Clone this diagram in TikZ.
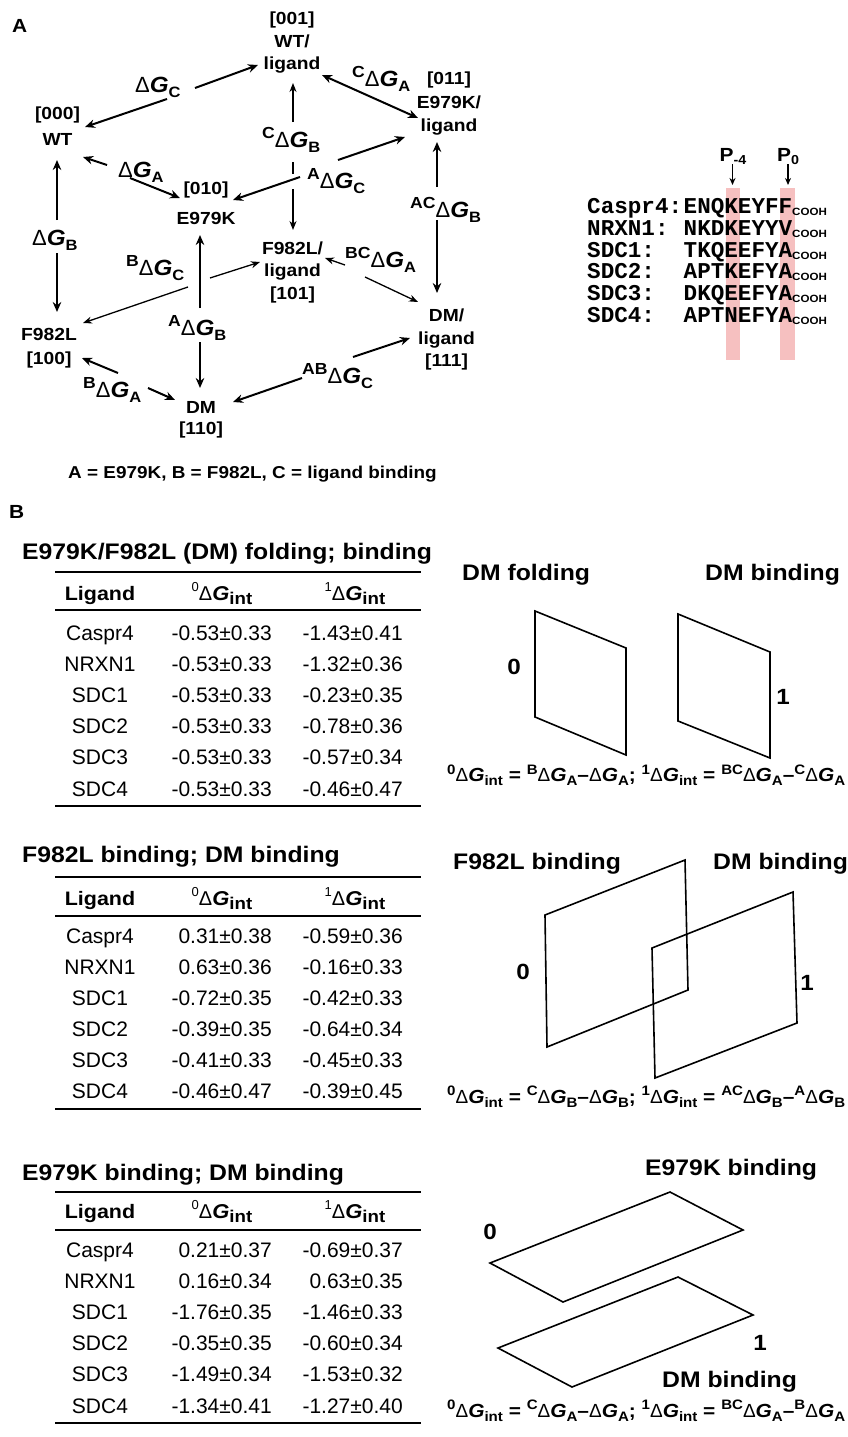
\documentclass[tikz,border=0pt]{standalone}
\usepackage{fontspec}
\setmainfont{Liberation Sans}[BoldFeatures={FakeStretch=1.1},BoldItalicFeatures={FakeStretch=1.1}]
\newfontfamily\seqfont{Liberation Mono}
\usetikzlibrary{arrows.meta}
\definecolor{pinkband}{RGB}{246,192,192}
\newcommand{\fs}[1]{\fontsize{#1}{#1}\selectfont}
\newcommand{\bgi}{\textbf{\textit{G}}}
\newcommand{\lab}[2]{{\fs{16}\bfseries\raisebox{9pt}{#1}}{\fs{22}\mdseries\upshape Δ\bgi}{\fs{15}\bfseries\raisebox{-5pt}{#2}}}
\newcommand{\hdg}[1]{{\fs{13}\mdseries\raisebox{9pt}{#1}}{\fs{20}\mdseries Δ\bgi}{\fs{17}\bfseries\raisebox{-4.5pt}{int}}}
\newcommand{\fdg}[2]{{\fs{13.7}\bfseries\raisebox{7.5pt}{#1}}{\fs{19}\mdseries Δ\bgi}{\fs{13.7}\bfseries\raisebox{-4pt}{#2}}}
\newcommand{\cooh}{{\normalfont\bfseries\fs{10.5}\raisebox{-2pt}{COOH}}}
\begin{document}
\begin{tikzpicture}[x=1pt,y=-1pt,
  thk/.style={line width=2pt,-{Stealth[length=10pt,width=8.5pt]}},
  thn/.style={line width=1.3pt,-{Stealth[length=9pt,width=7pt]}},
  dbl/.style={line width=2pt,{Stealth[length=10pt,width=8.5pt]}-{Stealth[length=10pt,width=8.5pt]}},
  plain/.style={line width=1.3pt},
  state/.style={font=\fontsize{17.5}{#1}\selectfont\bfseries,align=center,inner sep=0pt,anchor=north},
  dglab/.style={anchor=base west,inner sep=0pt},
  panel/.style={anchor=base west,inner sep=0pt,font=\fs{19}\bfseries},
  ttl/.style={anchor=base west,inner sep=0pt,font=\fs{22.5}\bfseries},
  hdr/.style={anchor=base,inner sep=0pt,font=\fs{19.5}\bfseries},
  cellc/.style={anchor=base,inner sep=0pt,font=\fs{21}},
  celle/.style={anchor=base east,inner sep=0pt,font=\fs{21}},
  rule/.style={line width=2pt},
  pg/.style={line width=1.6pt},
  num/.style={inner sep=0pt,font=\fs{22}\bfseries},
  frm/.style={anchor=base west,inner sep=0pt,font=\fs{19}\bfseries},
  seqn/.style={anchor=base west,inner sep=0pt,font=\seqfont\fs{22.6}\bfseries},
  plab/.style={anchor=base,inner sep=0pt,font=\fs{19}\bfseries},
  parr/.style={line width=1.3pt,-{Stealth[length=7pt,width=6pt]}}
]
\useasboundingbox (0,0) rectangle (847,1437);

% ---------------- Panel A ----------------
\node[panel] (pA) at (12,33) {A};

\node[state=22.5] (n001) at (292,11.7) {[001]\\WT/\\ligand};
\node[state=26] (n000) at (57.5,107) {[000]\\WT};
\node[state=23.2] (n011) at (449,72) {[011]\\E979K/\\ligand};
\node[state=30] (n010) at (206,182) {[010]\\E979K};
\node[state=22.4] (n101) at (292.5,241.7) {F982L/\\ligand\\{[101]}};
\node[state=24] (n100) at (49,328) {F982L\\{[100]}};
\node[state=20.5] (n110) at (201,401.7) {DM\\{[110]}};
\node[state=22.4] (n111) at (446.5,309) {DM/\\ligand\\{[111]}};

% labels
\node[dglab] (lC) at (135,92.5) {\lab{}{C}};
\node[dglab] (lCA) at (352,86.5) {\lab{C}{A}};
\node[dglab] (lCB) at (262,147) {\lab{C}{B}};
\node[dglab] (lAC) at (307,188) {\lab{A}{C}};
\node[dglab] (lA) at (118,177) {\lab{}{A}};
\node[dglab] (lB) at (32,245) {\lab{}{B}};
\node[dglab] (lBC) at (126,275) {\lab{B}{C}};
\node[dglab] (lAB) at (168,335) {\lab{A}{B}};
\node[dglab] (lBA) at (83,397) {\lab{B}{A}};
\node[dglab] (lABC) at (302,383) {\lab{AB}{C}};
\node[dglab] (lBCA) at (345,267) {\lab{BC}{A}};
\node[dglab] (lACB) at (410,217) {\lab{AC}{B}};

% arrow end points
\coordinate (c1a) at (167,99);  \coordinate (c1b) at (85,127);
\coordinate (c2a) at (195,88);  \coordinate (c2b) at (258,65);
\coordinate (c3a) at (322,75);  \coordinate (c3b) at (418,118);
\coordinate (c4a) at (293,122); \coordinate (c4b) at (293,83);
\coordinate (c5a) at (293,162); \coordinate (c5b) at (293,174);
\coordinate (c5c) at (293,189); \coordinate (c5d) at (293,230);
\coordinate (c6a) at (300,177); \coordinate (c6b) at (233,200);
\coordinate (c7a) at (338,160); \coordinate (c7b) at (405,137);
\coordinate (c8a) at (107,165); \coordinate (c8b) at (83,157);
\coordinate (c9a) at (130,178); \coordinate (c9b) at (180,198);
\coordinate (c10a) at (57,220); \coordinate (c10b) at (57,160);
\coordinate (c11a) at (57,253); \coordinate (c11b) at (57,312);
\coordinate (c12a) at (188,287); \coordinate (c12b) at (83,323);
\coordinate (c13a) at (210,278); \coordinate (c13b) at (260,262);
\coordinate (c14a) at (200,308); \coordinate (c14b) at (200,235);
\coordinate (c15a) at (200,342); \coordinate (c15b) at (200,388);
\coordinate (c16a) at (118,373); \coordinate (c16b) at (82,358);
\coordinate (c17a) at (148,388); \coordinate (c17b) at (175,400);
\coordinate (c18a) at (302,378); \coordinate (c18b) at (233,402);
\coordinate (c19a) at (353,357); \coordinate (c19b) at (410,338);
\coordinate (c20a) at (345,265); \coordinate (c20b) at (325,258);
\coordinate (c21a) at (365,277); \coordinate (c21b) at (418,302);
\coordinate (c22a) at (437,187); \coordinate (c22b) at (437,142);
\coordinate (c23a) at (437,220); \coordinate (c23b) at (437,293);

\draw[thk] (c1a) -- (c1b);
\draw[thk] (c2a) -- (c2b);
\draw[dbl] (c3a) -- (c3b);
\draw[thn] (c4a) -- (c4b);
\draw[plain] (c5a) -- (c5b);
\draw[thn] (c5c) -- (c5d);
\draw[thk] (c6a) -- (c6b);
\draw[thk] (c7a) -- (c7b);
\draw[thk] (c8a) -- (c8b);
\draw[thk] (c9a) -- (c9b);
\draw[thk] (c10a) -- (c10b);
\draw[thk] (c11a) -- (c11b);
\draw[thn] (c12a) -- (c12b);
\draw[thn] (c13a) -- (c13b);
\draw[thk] (c14a) -- (c14b);
\draw[thk] (c15a) -- (c15b);
\draw[thk] (c16a) -- (c16b);
\draw[thk] (c17a) -- (c17b);
\draw[thk] (c18a) -- (c18b);
\draw[thk] (c19a) -- (c19b);
\draw[thn] (c20a) -- (c20b);
\draw[thn] (c21a) -- (c21b);
\draw[thk] (c22a) -- (c22b);
\draw[thk] (c23a) -- (c23b);

\node[anchor=base west,inner sep=0pt,font=\fs{17.2}\bfseries] (capA) at (68,478) {A = E979K, B = F982L, C = ligand binding};

% sequence alignment
\fill[pinkband] (725.5,188) rectangle (740,360);
\fill[pinkband] (780,188) rectangle (795,360);
\node[plab] (pk) at (733,161) {P{\fs{13}\raisebox{-3pt}{-4}}};
\node[plab] (pz) at (788,161) {P{\fs{13}\raisebox{-3pt}{0}}};
\coordinate (pkend) at (732.5,185);
\coordinate (pzend) at (788,185);
\draw[parr] (732.5,164) -- (pkend);
\draw[parr] (788,164) -- (pzend);

\node[seqn] (s1n) at (587,213) {Caspr4:};
\node[seqn] (s1s) at (683.5,213) {ENQKEYFF\cooh};
\node[seqn] (s2n) at (587,235) {NRXN1:};
\node[seqn] (s2s) at (683.5,235) {NKDKEYYV\cooh};
\node[seqn] (s3n) at (587,257) {SDC1:};
\node[seqn] (s3s) at (683.5,257) {TKQEEFYA\cooh};
\node[seqn] (s4n) at (587,278.5) {SDC2:};
\node[seqn] (s4s) at (683.5,278.5) {APTKEFYA\cooh};
\node[seqn] (s5n) at (587,300) {SDC3:};
\node[seqn] (s5s) at (683.5,300) {DKQEEFYA\cooh};
\node[seqn] (s6n) at (587,322) {SDC4:};
\node[seqn] (s6s) at (683.5,322) {APTNEFYA\cooh};

% ---------------- Panel B ----------------
\node[panel] (pB) at (9,518) {B};

% table 1
\node[ttl] (t1) at (22,559) {E979K/F982L (DM) folding; binding};
\draw[rule] (55,572) -- (421,572);
\draw[rule] (55,610) -- (421,610);
\draw[rule] (55,806) -- (421,806);
\node[hdr] (t1h1) at (100,600) {Ligand};
\node[hdr] (t1h2) at (222,600) {\hdg{0}};
\node[hdr] (t1h3) at (355,600) {\hdg{1}};
\foreach \n/\a/\b [count=\i] in {Caspr4/-0.53±0.33/-1.43±0.41, NRXN1/-0.53±0.33/-1.32±0.36, SDC1/-0.53±0.33/-0.23±0.35, SDC2/-0.53±0.33/-0.78±0.36, SDC3/-0.53±0.33/-0.57±0.34, SDC4/-0.53±0.33/-0.46±0.47}{
  \node[cellc] (t1l\i) at (100,{640+31.2*(\i-1)}) {\n};
  \node[celle] (t1a\i) at (272,{640+31.2*(\i-1)}) {\a};
  \node[celle] (t1b\i) at (403,{640+31.2*(\i-1)}) {\b};
}

% table 2
\node[ttl] (t2) at (22,862) {F982L binding; DM binding};
\draw[rule] (55,877) -- (421,877);
\draw[rule] (55,916) -- (421,916);
\draw[rule] (55,1109) -- (421,1109);
\node[hdr] (t2h1) at (100,905) {Ligand};
\node[hdr] (t2h2) at (222,905) {\hdg{0}};
\node[hdr] (t2h3) at (355,905) {\hdg{1}};
\foreach \n/\a/\b [count=\i] in {Caspr4/0.31±0.38/-0.59±0.36, NRXN1/0.63±0.36/-0.16±0.33, SDC1/-0.72±0.35/-0.42±0.33, SDC2/-0.39±0.35/-0.64±0.34, SDC3/-0.41±0.33/-0.45±0.33, SDC4/-0.46±0.47/-0.39±0.45}{
  \node[cellc] (t2l\i) at (100,{943+31*(\i-1)}) {\n};
  \node[celle] (t2a\i) at (272,{943+31*(\i-1)}) {\a};
  \node[celle] (t2b\i) at (403,{943+31*(\i-1)}) {\b};
}

% table 3
\node[ttl] (t3) at (22,1180) {E979K binding; DM binding};
\draw[rule] (55,1192) -- (421,1192);
\draw[rule] (55,1230) -- (421,1230);
\draw[rule] (55,1423) -- (421,1423);
\node[hdr] (t3h1) at (100,1218) {Ligand};
\node[hdr] (t3h2) at (222,1218) {\hdg{0}};
\node[hdr] (t3h3) at (355,1218) {\hdg{1}};
\foreach \n/\a/\b [count=\i] in {Caspr4/0.21±0.37/-0.69±0.37, NRXN1/0.16±0.34/0.63±0.35, SDC1/-1.76±0.35/-1.46±0.33, SDC2/-0.35±0.35/-0.60±0.34, SDC3/-1.49±0.34/-1.53±0.32, SDC4/-1.34±0.41/-1.27±0.40}{
  \node[cellc] (t3l\i) at (100,{1257+31.2*(\i-1)}) {\n};
  \node[celle] (t3a\i) at (272,{1257+31.2*(\i-1)}) {\a};
  \node[celle] (t3b\i) at (403,{1257+31.2*(\i-1)}) {\b};
}

% right diagrams 1
\node[ttl] (d1a) at (462,580) {DM folding};
\node[ttl] (d1b) at (705,580) {DM binding};
\draw[pg] (535,611) -- (626,648) -- (626,755) -- (535,717) -- cycle;
\draw[pg] (678,614) -- (770,652) -- (770,758) -- (678,721) -- cycle;
\node[num] (d1z) at (514,667) {0};
\node[num] (d1o) at (783,697) {1};
\node[frm] (f1) at (447,781.5) {\fdg{0}{int} = \fdg{B}{A}–\fdg{}{A}; \fdg{1}{int} = \fdg{BC}{A}–\fdg{C}{A}};

% right diagrams 2
\node[ttl] (d2a) at (453,869) {F982L binding};
\node[ttl] (d2b) at (713,869) {DM binding};
\draw[pg] (545,915) -- (685,860) -- (688,990) -- (547,1047) -- cycle;
\draw[pg] (652,948) -- (793,892) -- (797,1023) -- (655,1078) -- cycle;
\node[num] (d2z) at (523,972) {0};
\node[num] (d2o) at (807,983) {1};
\node[frm] (f2) at (447,1103) {\fdg{0}{int} = \fdg{C}{B}–\fdg{}{B}; \fdg{1}{int} = \fdg{AC}{B}–\fdg{A}{B}};

% right diagrams 3
\node[ttl] (d3a) at (645,1175) {E979K binding};
\draw[pg] (490,1263) -- (670,1192) -- (743,1230) -- (563,1302) -- cycle;
\draw[pg] (498,1348) -- (678,1277) -- (753,1315) -- (572,1387) -- cycle;
\node[num] (d3z) at (490,1232) {0};
\node[num] (d3o) at (760,1343) {1};
\node[ttl] (d3b) at (662,1387) {DM binding};
\node[frm] (f3) at (447,1417) {\fdg{0}{int} = \fdg{C}{A}–\fdg{}{A}; \fdg{1}{int} = \fdg{BC}{A}–\fdg{B}{A}};
\end{tikzpicture}
\end{document}
